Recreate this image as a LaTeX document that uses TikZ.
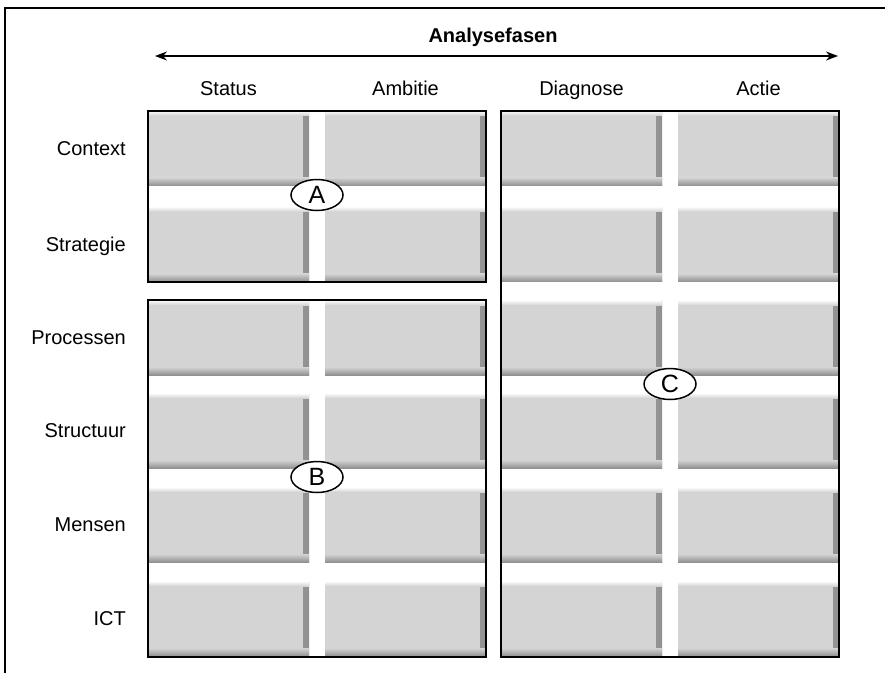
\documentclass[tikz,border=0pt]{standalone}
\usepackage{fontspec}
\setmainfont{Liberation Sans}
\usepackage{xcolor}
\usepackage{tikz}
\usetikzlibrary{shapes}
\usetikzlibrary{arrows.meta}
\usetikzlibrary{positioning}
\definecolor{celgrijs}{RGB}{212,212,212}
\definecolor{schaduw}{RGB}{145,145,145}
\tikzstyle{cel}=[
        rectangle,
        inner sep=0pt,
        minimum width=161pt,
        minimum height=75pt,
        fill=celgrijs,
        path picture={
          \shade[left color=celgrijs,right color=schaduw]
            ([xshift=-6pt]path picture bounding box.north east) rectangle (path picture bounding box.south east);
          \shade[top color=celgrijs,bottom color=schaduw]
            ([yshift=8pt]path picture bounding box.south west) rectangle (path picture bounding box.south east);
          \shade[top color=white,bottom color=celgrijs]
            (path picture bounding box.north west) rectangle ([yshift=-5pt]path picture bounding box.north east);
        }
]
\tikzstyle{kader}=[draw=black,line width=1.2pt]
\tikzstyle{rij}=[anchor=east,inner sep=0pt,text height=14pt,text depth=0pt,font=\fontsize{20}{24}\selectfont]
\tikzstyle{kop}=[inner sep=0pt,text height=14pt,text depth=0pt,font=\fontsize{20}{24}\selectfont]
\tikzstyle{titel}=[inner sep=0pt,font=\fontsize{20}{24}\selectfont\bfseries]
\tikzstyle{letter}=[ellipse,draw,line width=1.5pt,fill=white,inner sep=0pt,
        minimum width=52pt,minimum height=31pt,font=\fontsize{25}{28}\selectfont]
\tikzstyle{pijl}=[{Stealth[length=12pt,width=9pt]}-{Stealth[length=12pt,width=9pt]},line width=1.3pt]

\begin{document}
\begin{tikzpicture}[x=1pt,y=-1pt]
\useasboundingbox (0,0) rectangle (885,673);
\draw[line width=2pt] (5,673) -- (5,8) -- (885,8);
%kop
\node[titel] (fasen) at (493,37) {Analysefasen};
\coordinate (pijllinks) at (155,56);
\coordinate (pijlrechts) at (838,56);
\draw[pijl] (pijllinks) -- (pijlrechts);
\node[kop] (status) at (228.5,88) {Status};
\node[kop] (ambitie) at (405.5,88) {Ambitie};
\node[kop] (diagnose) at (581.5,88) {Diagnose};
\node[kop] (actie) at (758.5,88) {Actie};
%rijen
\node[rij] (context) at (126,148) {Context};
\node[rij] (strategie) at (126,244) {Strategie};
\node[rij] (processen) at (126,337.5) {Processen};
\node[rij] (structuur) at (126,430.5) {Structuur};
\node[rij] (mensen) at (126,524.5) {Mensen};
\node[rij] (ict) at (126,618.5) {ICT};
%cellen
\node[cel] (a11) at (228.5,148) {};
\node[cel] (a12) at (405.5,148) {};
\node[cel] (a21) at (228.5,244) {};
\node[cel] (a22) at (405.5,244) {};
\node[cel] (b31) at (228.5,337.5) {};
\node[cel] (b32) at (405.5,337.5) {};
\node[cel] (b41) at (228.5,430.5) {};
\node[cel] (b42) at (405.5,430.5) {};
\node[cel] (b51) at (228.5,524.5) {};
\node[cel] (b52) at (405.5,524.5) {};
\node[cel] (b61) at (228.5,618.5) {};
\node[cel] (b62) at (405.5,618.5) {};
\node[cel] (c11) at (581.5,148) {};
\node[cel] (c12) at (758.5,148) {};
\node[cel] (c21) at (581.5,244) {};
\node[cel] (c22) at (758.5,244) {};
\node[cel] (c31) at (581.5,337.5) {};
\node[cel] (c32) at (758.5,337.5) {};
\node[cel] (c41) at (581.5,430.5) {};
\node[cel] (c42) at (758.5,430.5) {};
\node[cel] (c51) at (581.5,524.5) {};
\node[cel] (c52) at (758.5,524.5) {};
\node[cel] (c61) at (581.5,618.5) {};
\node[cel] (c62) at (758.5,618.5) {};
%kaders
\draw[kader] (148,111) rectangle (486,282);
\draw[kader] (148,300) rectangle (486,657);
\draw[kader] (501,111) rectangle (839,657);
\node[letter] (A) at (317,195) {A};
\node[letter] (B) at (317,477) {B};
\node[letter] (C) at (670,384) {C};
\end{tikzpicture}
\end{document}
